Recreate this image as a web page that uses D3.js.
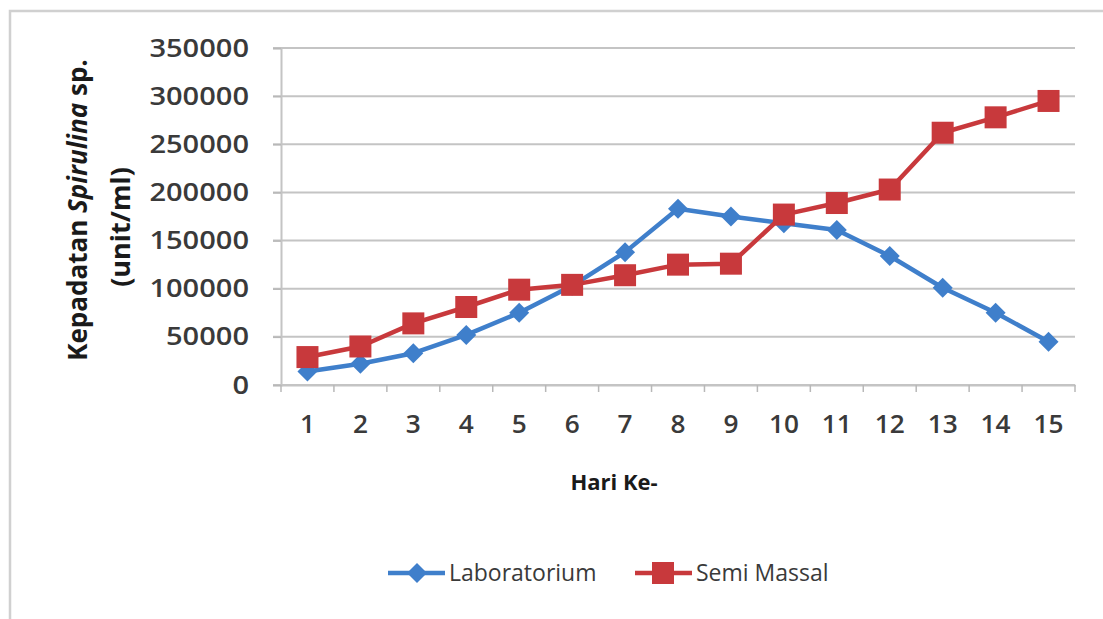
<!DOCTYPE html>
<html>
<head>
<meta charset="utf-8">
<script src="https://cdn.jsdelivr.net/npm/d3@7"></script>
<style>
  html, body { margin: 0; padding: 0; background: #fff; }
  svg { display: block; }
</style>
</head>
<body>
<svg id="chart" width="1103" height="619"></svg>
<script>
const days = ["1","2","3","4","5","6","7","8","9","10","11","12","13","14","15"];
const laboratorium = [14000, 22000, 33000, 52000, 75000, 103000, 138000, 183000, 175000, 168000, 161000, 134000, 101000, 75000, 45000];
const semiMassal = [29000, 40000, 64000, 81000, 99000, 104000, 114000, 125000, 126000, 177000, 189000, 203000, 262000, 278000, 295000];
const yTicks = [0, 50000, 100000, 150000, 200000, 250000, 300000, 350000];
const seriesNames = ["Laboratorium", "Semi Massal"];

(function () {
const svg = d3.select("#chart");
const plotLeft = 281, plotRight = 1075, plotTop = 48, plotBottom = 385;
const blue = "#3f7fcb", red = "#c8393c";
const font = "'Open Sans', sans-serif";

// outer border (left & top visible)
svg.append("path")
  .attr("d", `M10,619 L10,11 L1103,11`)
  .attr("fill", "none").attr("stroke", "#d0d0d0").attr("stroke-width", 2.5);

const x = d3.scaleBand().domain(days).range([plotLeft, plotRight]).padding(0);
const y = d3.scaleLinear().domain([0, 350000]).range([plotBottom, plotTop]);

// gridlines
svg.append("g").selectAll("line").data(yTicks).join("line")
  .attr("x1", plotLeft - 8).attr("x2", plotRight)
  .attr("y1", d => y(d)).attr("y2", d => y(d))
  .attr("stroke", "#c4c4c4").attr("stroke-width", 2);

// y axis
const yAxis = svg.append("g").attr("transform", `translate(${plotLeft},0)`)
  .call(d3.axisLeft(y).tickValues(yTicks).tickSize(8).tickPadding(24).tickFormat(d3.format("d")));
yAxis.select(".domain").attr("stroke", "#c4c4c4").attr("stroke-width", 2);
yAxis.selectAll(".tick line").attr("stroke", "#b8b8b8").attr("stroke-width", 1.5);
yAxis.selectAll("text").attr("font-family", font).attr("font-size", 25)
  .attr("fill", "#3a3a3a").attr("font-weight", 600)
  .attr("textLength", function () { return this.textContent.length * 16.6; })
  .attr("lengthAdjust", "spacingAndGlyphs");

// x axis
const xAxis = svg.append("g").attr("transform", `translate(0,${plotBottom})`)
  .call(d3.axisBottom(x).tickSize(0).tickPadding(30));
xAxis.select(".domain").attr("stroke", "#c4c4c4").attr("stroke-width", 2);
xAxis.selectAll("text").attr("font-family", font).attr("font-size", 25)
  .attr("fill", "#3a3a3a").attr("font-weight", 600)
  .attr("textLength", function () { return this.textContent.length * 15; })
  .attr("lengthAdjust", "spacingAndGlyphs");
// boundary ticks
const bounds = days.map(d => x(d)).concat([plotRight]);
svg.append("g").selectAll("line").data(bounds).join("line")
  .attr("x1", d => d).attr("x2", d => d)
  .attr("y1", plotBottom).attr("y2", plotBottom + 7)
  .attr("stroke", "#b8b8b8").attr("stroke-width", 1.5);

const cx = d => x(d) + x.bandwidth() / 2;

// lines
const line = d3.line().x((v, i) => cx(days[i])).y(v => y(v));
svg.append("path").datum(laboratorium).attr("d", line)
  .attr("fill", "none").attr("stroke", blue).attr("stroke-width", 4.5).attr("stroke-linejoin", "round");
svg.append("path").datum(semiMassal).attr("d", line)
  .attr("fill", "none").attr("stroke", red).attr("stroke-width", 4.5).attr("stroke-linejoin", "round");

// markers
const diamond = (px, py, r) => `M${px},${py - r}L${px + r},${py}L${px},${py + r}L${px - r},${py}Z`;
svg.append("g").selectAll("path").data(laboratorium).join("path")
  .attr("d", (v, i) => diamond(cx(days[i]), y(v), 10))
  .attr("fill", blue);
svg.append("g").selectAll("rect").data(semiMassal).join("rect")
  .attr("x", (v, i) => cx(days[i]) - 11).attr("y", v => y(v) - 11)
  .attr("width", 22).attr("height", 22).attr("fill", red);

// axis titles
svg.append("text").attr("x", 614).attr("y", 490).attr("text-anchor", "middle")
  .attr("font-family", font).attr("font-weight", 700).attr("font-size", 22).attr("fill", "#1a1a1a")
  .text("Hari Ke-");

const yt1 = svg.append("text").attr("transform", "translate(87,210) rotate(-90)")
  .attr("text-anchor", "middle").attr("font-family", font).attr("font-weight", 700)
  .attr("font-size", 26).attr("fill", "#1a1a1a");
yt1.append("tspan").text("Kepadatan ");
yt1.append("tspan").attr("font-style", "italic").text("Spirulina");
yt1.append("tspan").text(" sp.");
svg.append("text").attr("transform", "translate(130,227) rotate(-90)")
  .attr("text-anchor", "middle").attr("font-family", font).attr("font-weight", 700)
  .attr("font-size", 27).attr("fill", "#1a1a1a").text("(unit/ml)");

// legend
const legend = svg.append("g");
const lx = [388, 635];
const colors = [blue, red];
seriesNames.forEach((name, i) => {
  const g = legend.append("g");
  g.append("line").attr("x1", lx[i]).attr("x2", lx[i] + 57).attr("y1", 573).attr("y2", 573)
    .attr("stroke", colors[i]).attr("stroke-width", 4.5);
  if (i === 0) {
    g.append("path").attr("d", diamond(lx[i] + 29, 573, 10)).attr("fill", colors[i]);
  } else {
    g.append("rect").attr("x", lx[i] + 28 - 11).attr("y", 573 - 11).attr("width", 22).attr("height", 22).attr("fill", colors[i]);
  }
  g.append("text").attr("x", lx[i] + 61).attr("y", 573).attr("dy", "0.35em")
    .attr("font-family", font).attr("font-size", 23).attr("fill", "#3a3a3a").text(name);
});
})();
</script>
</body>
</html>
